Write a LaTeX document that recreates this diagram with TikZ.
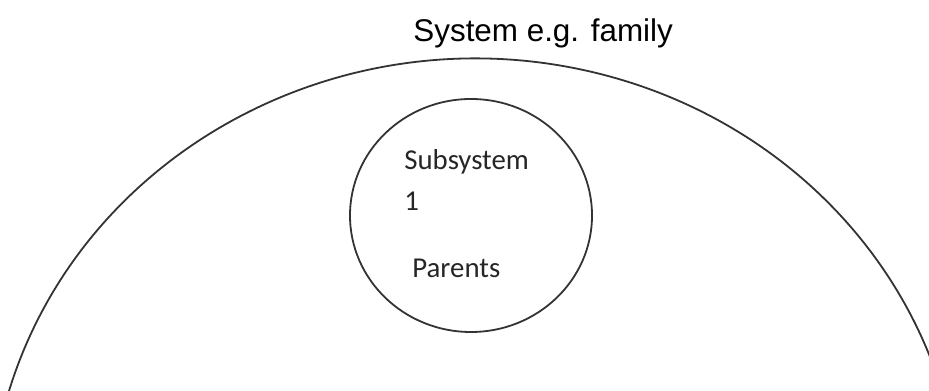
\documentclass[tikz,border=0pt]{standalone}
\usepackage{fontspec}
\newfontfamily\titlefont{Liberation Sans}
\newfontfamily\labelfont{Carlito}
\begin{document}
\begin{tikzpicture}[x=0.5pt,y=0.5pt,
	ring/.style={draw=black!80,line width=0.9pt},
	title/.style={inner sep=0,anchor=base west,font=\titlefont\fontsize{15.7}{18}\selectfont},
	label/.style={inner sep=0,anchor=base west,text=black!85,font=\labelfont\fontsize{14.4}{17}\selectfont}]
	\useasboundingbox (0,0) rectangle (929,390);
	\coordinate (famc) at (475.5,-130.5);
	\coordinate (subc) at (471,174.5);
	\draw[ring] (famc) ++(164:486 and 462) arc[start angle=164,end angle=16,x radius=486,y radius=462];
	\draw[ring] (subc) ellipse (121 and 116.5);
	
	\node[title] (family) at (413,348) {System e.g. family};
	\node[label] (sub) at (404,220) {Subsystem};
	\node[label] (num) at (404,179) {1};
	\node[label] (parents) at (412,112) {Parents};
\end{tikzpicture}
\end{document}
